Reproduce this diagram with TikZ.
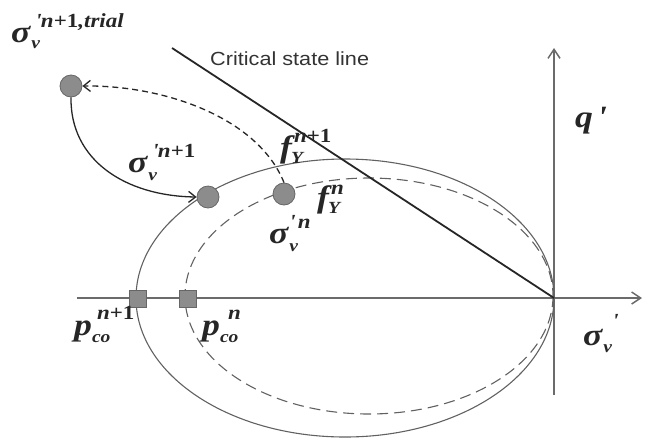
\documentclass[tikz,border=0pt]{standalone}
\usepackage{fontspec}
\setmainfont{Liberation Serif}
\newfontfamily\mf{Liberation Serif}[FakeStretch=1.15]
\newfontfamily\arialf{Liberation Sans}[FakeStretch=1.14]
\usetikzlibrary{arrows.meta}
\newcommand{\bigf}{\mf\fontsize{31}{31}\selectfont\bfseries\itshape}
\newcommand{\supf}{\mf\fontsize{20}{20}\selectfont\bfseries\itshape}
\newcommand{\subf}{\mf\fontsize{17}{17}\selectfont\bfseries\itshape}
% #1 kern before sub, #2 sub, #3 sub drop, #4 kern before sup, #5 sup, #6 sup raise
\newcommand{\subsup}[6]{\kern#1\makebox[0pt][l]{\raisebox{-#3}{\subf #2}}\kern#4\raisebox{#6}{\supf #5}}
\begin{document}
\begin{tikzpicture}[x=1pt,y=-1pt,
  axisline/.style={draw=black!58,line width=1.5pt,-{Straight Barb[length=9pt,width=12pt]}},
  ell/.style={draw=black!62,line width=1.1pt},
  dashell/.style={ell,dash pattern=on 11pt off 6pt},
  csl/.style={draw=black!85,line width=1.8pt},
  pt/.style={circle,draw=black!60,fill=black!45,line width=0.8pt,minimum size=22pt,inner sep=0},
  sq/.style={rectangle,draw=black!60,fill=black!45,line width=1pt,minimum size=17pt,inner sep=0},
  conn/.style={draw=black!85,line width=1.3pt,-{Straight Barb[length=7pt,width=11pt]}},
  dconn/.style={conn,dash pattern=on 6pt off 4pt},
  lab/.style={inner sep=0,anchor=base west,font=\bigf,text=black!85}]
\useasboundingbox (0,0) rectangle (645,440);
% axes
\coordinate (xl) at (77,298);
\coordinate (xr) at (642,298);
\coordinate (yb) at (554,395);
\coordinate (yt) at (554,48);
\coordinate (O) at (554,298);
\coordinate (cslA) at (172,48);
\draw[axisline] (xl) -- (xr);
\draw[axisline] (yb) -- (yt);
% yield surfaces
\draw[ell] (345,298) ellipse [x radius=209, y radius=139];
\draw[dashell] (369,296) ellipse [x radius=184, y radius=118];
% critical state line
\draw[csl] (cslA) -- (O);
\node[inner sep=0,anchor=base west,font=\arialf\fontsize{19}{19}\selectfont,text=black!80] (csltext) at (210,65) {Critical state line};
% points
\node[sq] (pcn1) at (137.5,299) {};
\node[sq] (pcn) at (187.5,299) {};
\node[pt] (trialc) at (71,86) {};
\node[pt] (sn1) at (208,197) {};
\node[pt] (sn) at (284,194) {};
% connectors
\draw[conn] (trialc.south) .. controls (70,160) and (125,196) .. (sn1.west);
\draw[dconn] (sn.north) .. controls (258,118) and (165,85) .. (trialc.east);
% labels
\node[lab] (ltrial) at (11,42) {σ\subsup{1pt}{v}{6pt}{4pt}{\textquotesingle n\textup{+1},trial}{15pt}};
\node[lab] (lsn1) at (128,172) {σ\subsup{1pt}{v}{8pt}{4pt}{\textquotesingle n\textup{+1}}{15pt}};
\node[lab] (lfn1) at (280,157) {f\subsup{-1pt}{Y}{6pt}{3pt}{n\textup{+1}}{15pt}};
\node[lab] (lfn) at (317,207) {f\subsup{-1pt}{Y}{6pt}{3pt}{n}{13pt}};
\node[lab] (lsn) at (269,243) {σ\subsup{1pt}{v}{8pt}{0pt}{\textquotesingle\kern3pt n}{15pt}};
\node[lab] (lpn1) at (74,335) {p\subsup{0pt}{co}{7pt}{5pt}{n\textup{+1}}{16pt}};
\node[lab] (lpn) at (202,335) {p\subsup{0pt}{co}{7pt}{8pt}{n}{16pt}};
\node[lab] (lsv) at (583,345) {σ\subsup{1pt}{v}{7pt}{9pt}{\textquotesingle}{18pt}};
\node[lab] (lq) at (575,127) {q\kern4pt\textquotesingle};
\end{tikzpicture}
\end{document}
